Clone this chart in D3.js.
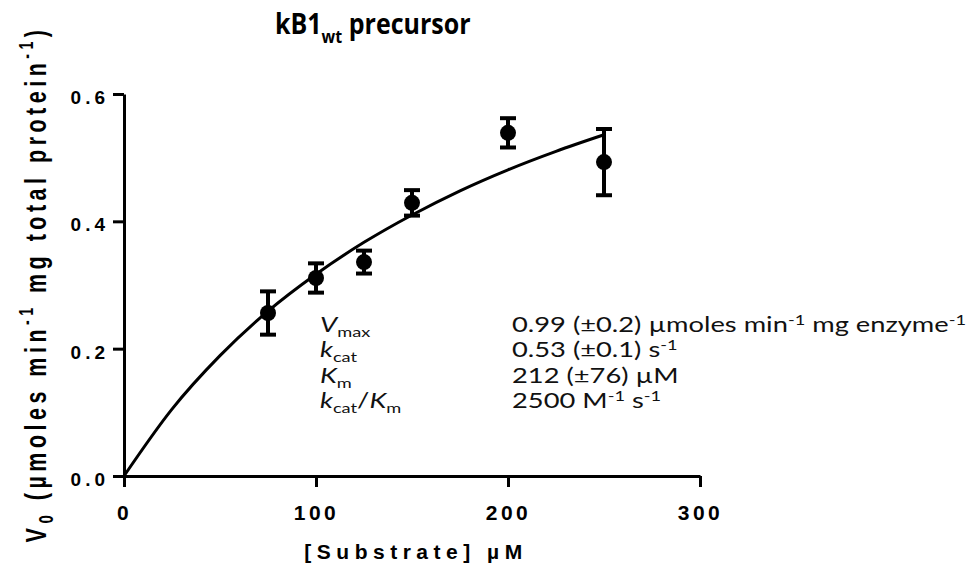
<!DOCTYPE html>
<html>
<head>
<meta charset="utf-8">
<script src="https://cdn.jsdelivr.net/npm/d3@7"></script>
<style>
  body { margin: 0; background: #fff; }
  svg { display: block; }
</style>
</head>
<body>
<svg width="978" height="575"></svg>
<script>
// measured points: substrate (uM), V0 and SEM
var substrate = [75, 100, 125, 150, 200, 250];
var rate = [0.256, 0.311, 0.336, 0.429, 0.539, 0.493];
var rateErr = [0.034, 0.023, 0.018, 0.020, 0.023, 0.052];

// fitted curve
var fitX = [0, 25, 50, 75, 100, 125, 150, 175, 200, 225, 250];
var fitY = [0, 0.105, 0.189, 0.259, 0.317, 0.367, 0.410, 0.448, 0.481, 0.510, 0.536];

var xTicks = [0, 100, 200, 300];
var yTicks = [0, 0.2, 0.4, 0.6];

// kinetic parameter table
var paramNames = [
  [["V", "i"], ["max", "sub"]],
  [["k", "i"], ["cat", "sub"]],
  [["K", "i"], ["m", "sub"]],
  [["k", "i"], ["cat", "sub"], ["/", ""], ["K", "i"], ["m", "sub"]]
];
var paramValues = [
  [["0.99 (\u00b10.2) \u00b5moles min", ""], ["-1", "sup"], [" mg enzyme", ""], ["-1", "sup"]],
  [["0.53 (\u00b10.1) s", ""], ["-1", "sup"]],
  [["212 (\u00b176) \u00b5M", ""]],
  [["2500 M", ""], ["-1", "sup"], [" s", ""], ["-1", "sup"]]
];

var svg = d3.select("svg");
var x = d3.scaleLinear().domain([0, 300]).range([124, 700]);
var y = d3.scaleLinear().domain([0, 0.6]).range([476, 94]);

var arial = "'Liberation Sans', Arial, sans-serif";

// axes
var xAxis = svg.append("g").attr("transform", "translate(0,476)")
  .call(d3.axisBottom(x).tickValues(xTicks).tickFormat(d3.format("d")).tickSize(11).tickSizeOuter(0));
var yAxis = svg.append("g").attr("transform", "translate(124,0)")
  .call(d3.axisLeft(y).tickValues(yTicks).tickFormat(d3.format(".1f")).tickSize(11).tickSizeOuter(0));

[xAxis, yAxis].forEach(function(a) {
  a.select(".domain").attr("stroke", "#000").attr("stroke-width", 3);
  a.selectAll(".tick line").attr("stroke", "#000").attr("stroke-width", 3);
  a.selectAll(".tick text")
    .attr("fill", "#000")
    .style("font-family", arial)
    .style("font-weight", "bold");
});
xAxis.selectAll(".tick text").attr("y", 44).attr("dy", 0)
  .style("font-size", "21px").style("letter-spacing", "3.5px");
yAxis.selectAll(".tick text").attr("x", -15).attr("dy", "0.5em")
  .style("font-size", "19px").style("letter-spacing", "4px");

// fit line
var line = d3.line()
  .x(function(d, i) { return x(fitX[i]); })
  .y(function(d) { return y(d); })
  .curve(d3.curveMonotoneX);
svg.append("path")
  .datum(fitY)
  .attr("d", line)
  .attr("fill", "none")
  .attr("stroke", "#000")
  .attr("stroke-width", 3);

// error bars
var bars = svg.append("g").selectAll("g").data(substrate).enter().append("g");
bars.append("line")
  .attr("x1", function(d) { return x(d); })
  .attr("x2", function(d) { return x(d); })
  .attr("y1", function(d, i) { return y(rate[i] + rateErr[i]); })
  .attr("y2", function(d, i) { return y(rate[i] - rateErr[i]); })
  .attr("stroke", "#000").attr("stroke-width", 4);
[1, -1].forEach(function(s) {
  bars.append("line")
    .attr("x1", function(d) { return x(d) - 8; })
    .attr("x2", function(d) { return x(d) + 8; })
    .attr("y1", function(d, i) { return y(rate[i] + s * rateErr[i]); })
    .attr("y2", function(d, i) { return y(rate[i] + s * rateErr[i]); })
    .attr("stroke", "#000").attr("stroke-width", 4);
});
bars.append("circle")
  .attr("cx", function(d) { return x(d); })
  .attr("cy", function(d, i) { return y(rate[i]); })
  .attr("r", 8)
  .attr("fill", "#000");

// title
var title = svg.append("text")
  .attr("transform", "translate(275,34) scale(1,1.15)")
  .style("font-family", "'Open Sans', sans-serif")
  .style("font-weight", "bold")
  .style("font-size", "25px");
title.append("tspan").text("kB1");
title.append("tspan").attr("dy", 8).style("font-size", "16px").text("wt");
title.append("tspan").attr("dy", -8).text(" precursor");

// axis titles
svg.append("text")
  .attr("x", 416).attr("y", 559)
  .attr("text-anchor", "middle")
  .style("font-family", arial)
  .style("font-weight", "bold")
  .style("font-size", "21px")
  .style("letter-spacing", "5.5px")
  .text("[Substrate] \u00b5M");

var yl = svg.append("text")
  .attr("transform", "translate(46,284) rotate(-90) scale(1,1.4)")
  .attr("text-anchor", "middle")
  .style("font-family", arial)
  .style("font-weight", "bold")
  .style("font-size", "21.5px")
  .style("letter-spacing", "4.5px");
yl.append("tspan").text("V");
yl.append("tspan").attr("dy", 5).style("font-size", "15px").text("0");
yl.append("tspan").attr("dy", -5).text(" (\u00b5moles min");
yl.append("tspan").attr("dy", -9).style("font-size", "14px").text("-1");
yl.append("tspan").attr("dy", 9).text(" mg total protein");
yl.append("tspan").attr("dy", -9).style("font-size", "14px").text("-1");
yl.append("tspan").attr("dy", 9).text(")");

// parameter table
function richText(g, parts, px, py) {
  var t = g.append("text")
    .attr("transform", "translate(" + px + "," + py + ") scale(1.3,1)")
    .style("font-family", "Lato, 'Open Sans', sans-serif")
    .style("font-size", "21px")
    .attr("fill", "#111");
  var shift = 0;
  parts.forEach(function(p) {
    var s = t.append("tspan").text(p[0]);
    var target = p[1] === "sub" ? 5 : p[1] === "sup" ? -7 : 0;
    s.attr("dy", target - shift);
    shift = target;
    if (p[1] === "sub" || p[1] === "sup") s.style("font-size", "14px");
    if (p[1] === "i") s.style("font-style", "italic");
  });
}
var tbl = svg.append("g");
var rowY = d3.scalePoint().domain(d3.range(paramNames.length)).range([332, 408]);
paramNames.forEach(function(p, i) { richText(tbl, p, 320, rowY(i)); });
paramValues.forEach(function(p, i) { richText(tbl, p, 512, rowY(i)); });
</script>
</body>
</html>
